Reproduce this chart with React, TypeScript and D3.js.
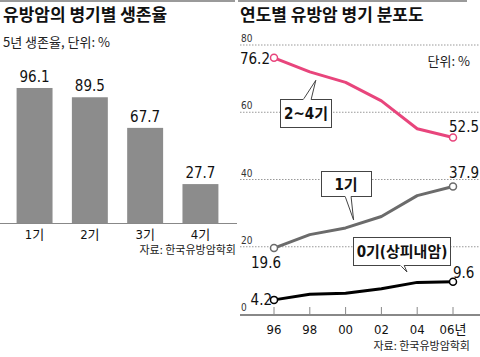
import React from "react";
import * as d3 from "d3";

const stageCats = ["1기", "2기", "3기", "4기"];
const survival = [96.1, 89.5, 67.7, 27.7];

const years = ["96", "98", "00", "02", "04", "06"];
const yearLabels = ["96", "98", "00", "02", "04", "06년"];
const stage24 = [76.2, 72.0, 68.9, 63.4, 55.1, 52.5];
const stage1 = [19.6, 23.6, 25.6, 29.0, 35.2, 37.9];
const stage0 = [4.2, 5.9, 6.2, 7.5, 9.4, 9.6];
const yTicks = [0, 20, 40, 60, 80];

const NUM = "'Liberation Sans Narrow', 'DejaVu Sans Condensed', 'Noto Sans CJK KR', sans-serif";
const KR = "'Noto Sans CJK KR', sans-serif";

export default function App() {
  // left bar chart
  const xb = d3.scaleBand().domain(stageCats).range([0, 235]).paddingInner(0.35).paddingOuter(0.3);
  const yb = d3.scaleLinear().domain([0, 100]).range([223, 82.5]);

  // right line chart
  const xl = d3.scalePoint().domain(years).range([274, 453]);
  const yl = d3.scaleLinear().domain([0, 80]).range([314, 45]);
  const line = d3.line<number>().x((_, i) => xl(years[i]) as number).y((d) => yl(d));

  const series = [
    { data: stage24, color: "#e8457c" },
    { data: stage1, color: "#6b6b6b" },
    { data: stage0, color: "#000000" },
  ];

  const last = years.length - 1;
  const px = (i: number) => xl(years[i]) as number;

  return (
    <svg width={480} height={357} style={{ position: "absolute", left: 0, top: 0, background: "#fff" }}>
      <line x1={0} x2={235} y1={1} y2={1} stroke="#9a9a9a" strokeWidth={2} />
      <line x1={238} x2={467} y1={1} y2={1} stroke="#9a9a9a" strokeWidth={2} />

      {/* Left titles */}
      <text x={3} y={21} fontFamily={KR} fontSize={17} fontWeight={700} fill="#111">유방암의 병기별 생존율</text>
      <text x={3} y={47} fontFamily={KR} fontSize={13} fill="#222">5년 생존율, 단위: %</text>

      {stageCats.map((c, i) => (
        <g key={c}>
          <rect x={xb(c)} y={yb(survival[i])} width={xb.bandwidth()} height={yb(0) - yb(survival[i])} fill="#8c8c8c" />
          <text x={(xb(c) as number) + xb.bandwidth() / 2} y={yb(survival[i]) - 6} textAnchor="middle" fontFamily={NUM} fontSize={15} fill="#111">
            {survival[i].toFixed(1)}
          </text>
          <text x={(xb(c) as number) + xb.bandwidth() / 2} y={239} textAnchor="middle" fontFamily={NUM} fontSize={13} fill="#111">
            {c}
          </text>
        </g>
      ))}
      <line x1={0} x2={237} y1={223.5} y2={223.5} stroke="#888" strokeWidth={1} />
      <text x={236} y={254} textAnchor="end" fontFamily={KR} fontSize={11} fill="#222">자료: 한국유방암학회</text>

      {/* Right titles */}
      <text x={240} y={21} fontFamily={KR} fontSize={17} fontWeight={700} fill="#111">연도별 유방암 병기 분포도</text>

      {yTicks.map((t) => (
        <g key={t}>
          {t > 0 && (
            <line x1={240} x2={480} y1={yl(t)} y2={yl(t)} stroke="#999" strokeWidth={1} strokeDasharray="1.5,1.5" />
          )}
          <text x={241} y={yl(t) - 3} fontFamily={NUM} fontSize={10} fill="#333">{t}</text>
        </g>
      ))}
      <text x={470} y={66} textAnchor="end" fontFamily={KR} fontSize={13} fill="#222">단위: %</text>

      {/* x axis */}
      <line x1={240} x2={480} y1={315} y2={315} stroke="#888" strokeWidth={2} />
      {years.map((y, i) => (
        <g key={y}>
          <line x1={px(i)} x2={px(i)} y1={307} y2={315} stroke="#888" strokeWidth={1} />
          <text x={px(i)} y={334} textAnchor="middle" fontFamily={NUM} fontSize={13} fill="#111">{yearLabels[i]}</text>
        </g>
      ))}
      <text x={470} y={350} textAnchor="end" fontFamily={KR} fontSize={11} fill="#222">자료: 한국유방암학회</text>

      {/* callout boxes */}
      <rect x={280.5} y={99.5} width={51} height={28} fill="#fff" stroke="#444" strokeWidth={1} />
      <polyline points={`303,100 ${px(1) + 6},${yl(69.5)} 311,100`} fill="#fff" stroke="#444" strokeWidth={1} />
      <line x1={303.5} x2={310.5} y1={99.5} y2={99.5} stroke="#fff" strokeWidth={1.5} />
      <text x={306} y={119} textAnchor="middle" fontFamily={NUM} fontSize={15} fontWeight={700} fill="#111">2~4기</text>

      <rect x={321.5} y={171.5} width={50} height={25} fill="#fff" stroke="#444" strokeWidth={1} />
      <polyline points={`345,196 ${px(2) + 8},220 351,196`} fill="#fff" stroke="#444" strokeWidth={1} />
      <line x1={345.5} x2={350.5} y1={196.5} y2={196.5} stroke="#fff" strokeWidth={1.5} />
      <text x={346} y={190} textAnchor="middle" fontFamily={NUM} fontSize={15} fontWeight={700} fill="#111">1기</text>

      <rect x={353.5} y={237.5} width={97} height={28} fill="#fff" stroke="#444" strokeWidth={1} />
      <polyline points={`400,265 407,272 404,265`} fill="#fff" stroke="#444" strokeWidth={1} />
      <line x1={400.5} x2={403.5} y1={265.5} y2={265.5} stroke="#fff" strokeWidth={1.5} />
      <text x={402} y={257} textAnchor="middle" fontFamily={NUM} fontSize={15} fontWeight={700} fill="#111">0기(상피내암)</text>

      {/* lines */}
      {series.map((s, k) => (
        <g key={k}>
          <path d={line(s.data) || ""} fill="none" stroke={s.color} strokeWidth={3} strokeLinejoin="round" />
          {[0, last].map((i) => (
            <circle key={i} cx={px(i)} cy={yl(s.data[i])} r={3.5} fill="#fff" stroke={s.color} strokeWidth={1.5} />
          ))}
        </g>
      ))}

      {/* value labels */}
      <text x={270} y={64} textAnchor="end" fontFamily={NUM} fontSize={15} fill="#111">{stage24[0].toFixed(1)}</text>
      <text x={449} y={132} fontFamily={NUM} fontSize={15} fill="#111">{stage24[last].toFixed(1)}</text>
      <text x={449} y={178} fontFamily={NUM} fontSize={15} fill="#111">{stage1[last].toFixed(1)}</text>
      <text x={266} y={268} textAnchor="middle" fontFamily={NUM} fontSize={15} fill="#111">{stage1[0].toFixed(1)}</text>
      <text x={272} y={305} textAnchor="end" fontFamily={NUM} fontSize={15} fill="#111">{stage0[0].toFixed(1)}</text>
      <text x={453} y={278} fontFamily={NUM} fontSize={15} fill="#111">{stage0[last].toFixed(1)}</text>
    </svg>
  );
}
